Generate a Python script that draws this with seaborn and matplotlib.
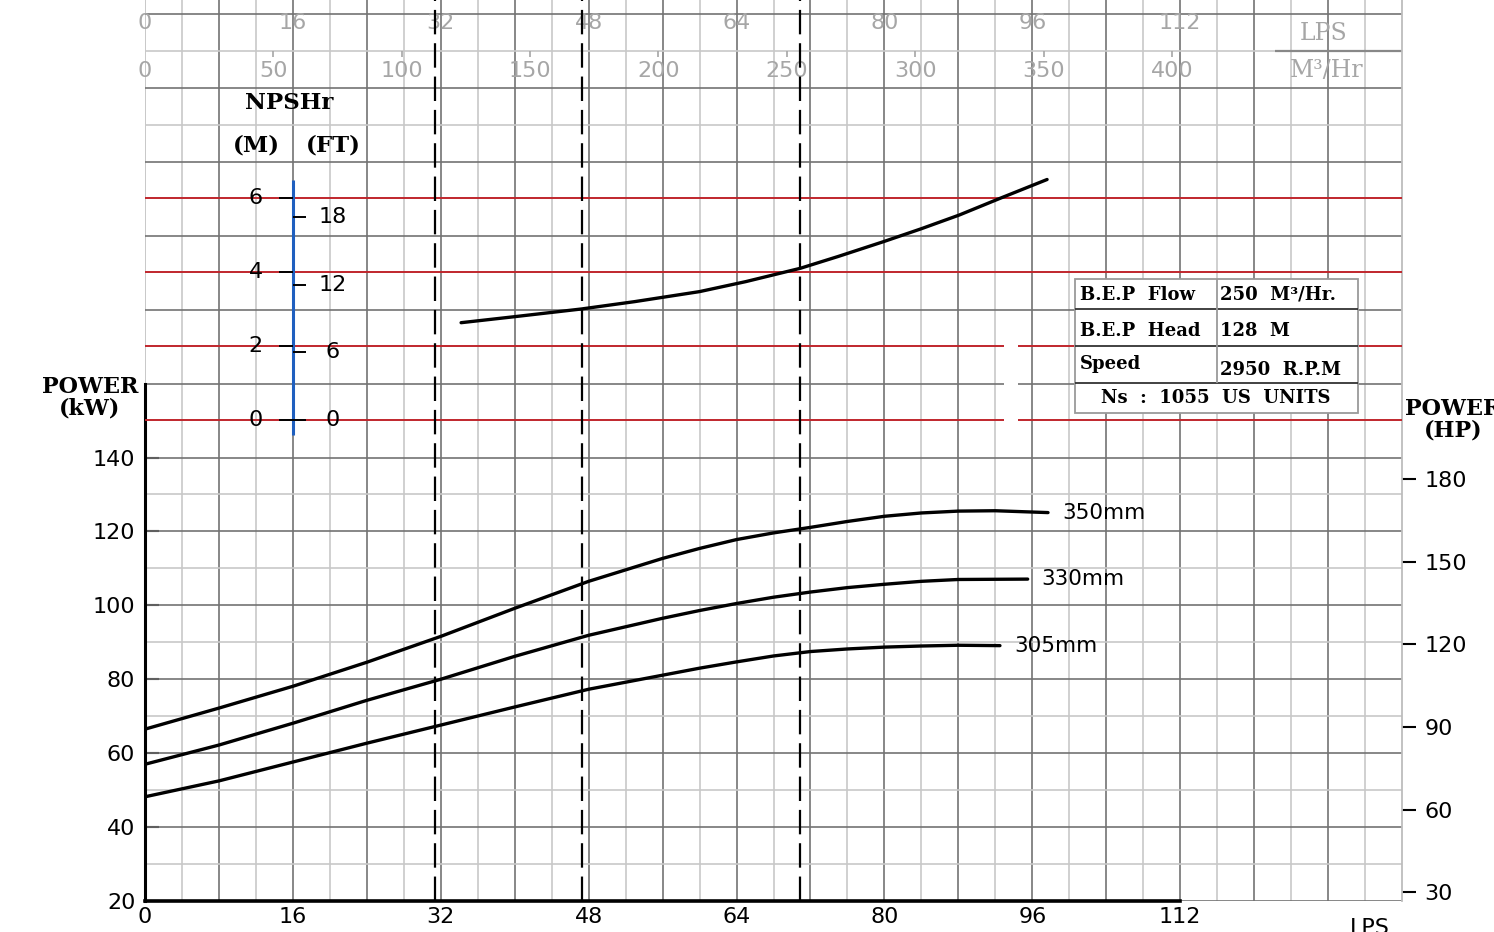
import numpy as np
import pandas as pd
import seaborn as sns
import matplotlib.pyplot as plt
from matplotlib.patches import Rectangle

# power curves, flow in LPS and power in kW
flow_350 = [0, 8, 16, 24, 32, 40, 48, 56, 60, 64, 68, 72, 76, 80, 84, 88, 92, 97.7]
power_350 = [66.5, 72.2, 78.1, 84.6, 91.6, 99.2, 106.5, 112.7, 115.4, 117.8, 119.6, 121.1, 122.7, 124.1,
             125.0, 125.5, 125.6, 125.1]
flow_330 = [0, 8, 16, 24, 32, 40, 48, 56, 60, 64, 68, 72, 76, 80, 84, 88, 95.5]
power_330 = [57.0, 62.2, 68.1, 74.3, 80.0, 86.2, 91.9, 96.5, 98.6, 100.5, 102.2, 103.6, 104.8, 105.7,
             106.5, 107.0, 107.1]
flow_305 = [0, 8, 16, 24, 32, 40, 48, 56, 60, 64, 68, 72, 76, 80, 84, 88, 92.5]
power_305 = [48.2, 52.5, 57.6, 62.7, 67.6, 72.5, 77.3, 81.1, 83.0, 84.7, 86.3, 87.5, 88.2, 88.7,
             89.0, 89.2, 89.1]
impellers = ['350mm', '330mm', '305mm']

# NPSHr curve (M)
npsh_flow = [34.2, 39.9, 47.2, 53, 60, 65, 70.9, 75, 79.9, 84, 88.1, 92.5, 97.6]
npsh_m = [2.63, 2.79, 3.0, 3.2, 3.47, 3.74, 4.1, 4.42, 4.82, 5.17, 5.54, 5.99, 6.5]
npsh_m_ticks = [0, 2, 4, 6]
npsh_ft_ticks = [0, 6, 12, 18]

# dashed verticals (LPS)
dash_flows = [31.4, 47.3, 70.9]

lps_ticks = [0, 16, 32, 48, 64, 80, 96, 112]
m3h_ticks = [0, 50, 100, 150, 200, 250, 300, 350, 400]
kw_ticks = [20, 40, 60, 80, 100, 120, 140]
hp_ticks = [30, 60, 90, 120, 150, 180]

table_left = ['B.E.P  Flow', 'B.E.P  Head', 'Speed']
table_right = ['250  M³/Hr.', '128  M', '2950  R.P.M']
table_bottom = 'Ns  :  1055  US  UNITS'

KW_PER_HP = 0.7457
FT_PER_M = 3.2808

sns.set_style('white')
plt.rcParams['font.family'] = ['DejaVu Sans']
plt.rcParams.update({'text.color': 'black', 'xtick.color': 'black', 'ytick.color': 'black',
                     'axes.labelcolor': 'black'})

DARK = '#737373'
LIGHT = '#c8c8c8'
RED = '#c0262c'
BLUE = '#1f5fbf'
GRAY_TXT = '#a6a6a6'
SERIF = 'DejaVu Serif'
GAP = (92.9, 94.5)  # break in a few horizontal rules

fig = plt.figure(figsize=(14.94, 9.32), dpi=100)
ax = fig.add_axes([145 / 1494, 1 - 901 / 932, (1402 - 145) / 1494, 901 / 932])
ax.set_xlim(0, 136)
ax.set_ylim(20, 263.8)

# grid
for v in np.arange(0, 136, 4):
    ax.axvline(v, color=DARK if (v % 8 == 0 and v > 0) else LIGHT, lw=1.2, zorder=0.8)
for h in range(30, 261, 10):
    if h in (150, 170, 190, 210):
        continue
    c = DARK if h % 20 == 0 else LIGHT
    if h == 160:
        ax.hlines([h, h], [0, GAP[1]], [GAP[0], 136], color=c, lw=1.2, zorder=0.9)
    else:
        ax.hlines(h, 0, 136, color=c, lw=1.2, zorder=0.9)

# power curves
df = pd.DataFrame({
    'flow': flow_350 + flow_330 + flow_305,
    'power': power_350 + power_330 + power_305,
    'impeller': [impellers[0]] * len(flow_350) + [impellers[1]] * len(flow_330) + [impellers[2]] * len(flow_305),
})
sns.lineplot(data=df, x='flow', y='power', hue='impeller', palette={k: 'black' for k in impellers},
             estimator=None, sort=False, legend=False, lw=2.4, ax=ax, zorder=4)
for name, fx, py in zip(impellers, [flow_350, flow_330, flow_305], [power_350, power_330, power_305]):
    ax.annotate(name, (fx[-1], py[-1]), xytext=(10, 0), textcoords='offset points',
                va='center', ha='left', fontsize=15.5, color='black')

ax.set_xticks(lps_ticks)
ax.set_yticks(kw_ticks)
ax.set_xlabel('')
ax.set_ylabel('')
ax.tick_params(axis='x', direction='in', length=7, width=1.5, labelsize=16, pad=4, colors='black')
ax.tick_params(axis='y', direction='in', length=10, width=1.5, labelsize=16, pad=7, colors='black')
for s in ('top', 'right'):
    ax.spines[s].set_visible(False)
ax.spines['left'].set_bounds(20, 160)
ax.spines['left'].set_linewidth(2.2)
ax.spines['left'].set_color('black')
ax.spines['bottom'].set_bounds(0, 112)
ax.spines['bottom'].set_linewidth(2.6)
ax.spines['bottom'].set_color('black')
ax.axvline(0, color=LIGHT, lw=1.2, zorder=0.7)
ax.hlines(20, 112, 136, color=DARK, lw=1.2)

# top flow scales
for t in lps_ticks:
    ax.text(t, 257.6, str(t), ha='center', va='center', fontsize=16, color=GRAY_TXT)
for t in m3h_ticks:
    ax.text(t / 3.6, 244.6, str(t), ha='center', va='center', fontsize=16, color=GRAY_TXT)
    if t > 0:
        ax.vlines(t / 3.6, 248.3, 250, color=GRAY_TXT, lw=1.2)
ax.text(127.5, 254.8, 'LPS', ha='center', va='center', fontsize=17, color=GRAY_TXT, family=SERIF)
ax.hlines(250, 122.3, 136, color='#888888', lw=1.6)
ax.text(127.9, 244.6, 'M³/Hr', ha='center', va='center', fontsize=17, color=GRAY_TXT, family=SERIF)

# HP axis
ax_hp = ax.twinx()
ax_hp.set_ylim(20 / KW_PER_HP, 263.8 / KW_PER_HP)
ax_hp.set_yticks(hp_ticks)
ax_hp.tick_params(axis='y', direction='out', length=10, width=1.5, labelsize=16, pad=6, colors='black')
for s in ('top', 'left', 'bottom'):
    ax_hp.spines[s].set_visible(False)
ax_hp.spines['right'].set_color('#bdbdbd')
ax_hp.spines['right'].set_linewidth(1.3)

# NPSH axis (metres)
ax_n = ax.twinx()
ax_n.set_ylim((420 - 901) / 37, 420 / 37)
ax_n.set_yticks([])
for s in ax_n.spines.values():
    s.set_visible(False)

for m in npsh_m_ticks:
    if m in (0, 2):
        ax_n.hlines([m, m], [0, GAP[1]], [GAP[0], 136], color=RED, lw=1.4, zorder=1)
    else:
        ax_n.hlines(m, 0, 136, color=RED, lw=1.4, zorder=1)

for f in dash_flows:
    ax_n.axvline(f, color='black', lw=1.6, ls=(0, (11, 4)), zorder=3)

sns.lineplot(x=npsh_flow, y=npsh_m, color='black', lw=2.4, estimator=None, sort=False, ax=ax_n, zorder=4)
ax_n.set_xlabel('')
ax_n.set_ylabel('')

# NPSH scale
ax_n.vlines(16, -0.4, 6.49, color=BLUE, lw=2.2, zorder=5)
for m in npsh_m_ticks:
    ax_n.hlines(m, 14.5, 16, color='black', lw=1.4, zorder=5)
    ax_n.text(12.0, m, str(m), ha='center', va='center', fontsize=16, zorder=5)
for ft in npsh_ft_ticks:
    ax_n.hlines(ft / FT_PER_M, 16, 17.4, color='black', lw=1.4, zorder=5)
    ax_n.text(20.3, ft / FT_PER_M, str(ft), ha='center', va='center', fontsize=16, zorder=5)
ax_n.text(15.6, 8.57, 'NPSHr', ha='center', va='center', fontsize=16.5, weight='bold', family=SERIF)
ax_n.text(12.0, 7.43, '(M)', ha='center', va='center', fontsize=16.5, weight='bold', family=SERIF)
ax_n.text(20.4, 7.43, '(FT)', ha='center', va='center', fontsize=16.5, weight='bold', family=SERIF)

# info table
ax_n.add_patch(Rectangle((100.6, 0.19), 30.6, 3.62, facecolor='white', edgecolor='#9a9a9a', lw=1.3, zorder=6))
ax_n.hlines([3.0, 2.0, 1.0], 100.6, 131.2, color='#333333', lw=1.3, zorder=7)
ax_n.vlines(116.0, 1.0, 3.81, color='#9a9a9a', lw=1.3, zorder=7)
for lbl, val, y, yv in zip(table_left, table_right, [3.38, 2.41, 1.51], [3.38, 2.41, 1.35]):
    ax_n.text(101.2, y, lbl, ha='left', va='center', fontsize=13, weight='bold', family=SERIF, zorder=8)
    ax_n.text(116.3, yv, val, ha='left', va='center', fontsize=13, weight='bold', family=SERIF, zorder=8)
ax_n.text(115.9, 0.59, table_bottom, ha='center', va='center', fontsize=13, weight='bold', family=SERIF, zorder=8)

# axis titles
fig.text(90 / 1494, 1 - 398 / 932, 'POWER\n(kW)', ha='center', va='center', fontsize=16,
         weight='bold', family=SERIF, linespacing=0.95)
fig.text(1405 / 1494, 1 - 420 / 932, 'POWER\n(HP)', ha='left', va='center', fontsize=16,
         weight='bold', family=SERIF, linespacing=0.95, multialignment='center')
fig.text(1370 / 1494, 1 - 918 / 932, 'LPS', ha='center', va='top', fontsize=16)

fig.savefig('out.png', dpi=100)
